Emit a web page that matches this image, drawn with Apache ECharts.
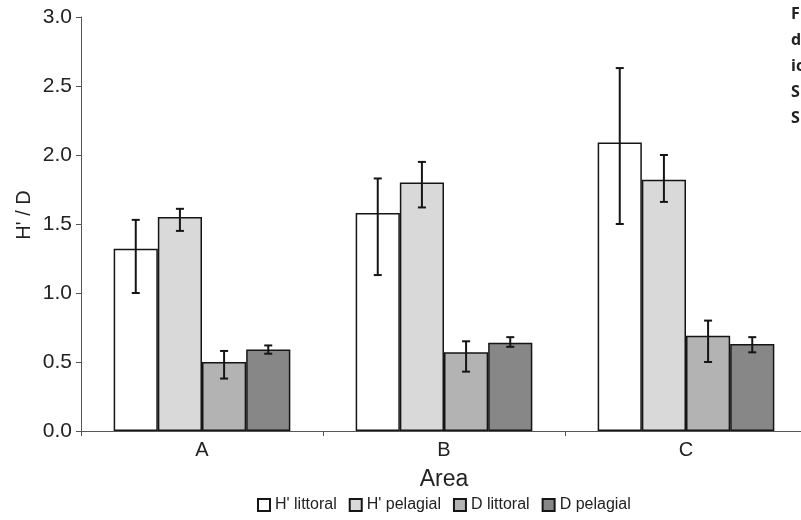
<!DOCTYPE html>
<html>
<head>
<meta charset="utf-8">
<script src="https://cdn.jsdelivr.net/npm/echarts@6/dist/echarts.min.js"></script>
<style>html,body{margin:0;padding:0;background:#fff}#c{width:801px;height:520px}</style>
</head>
<body>
<div id="c"></div>
<script>
var categories = ['A', 'B', 'C'];
var seriesNames = ["H' littoral", "H' pelagial", 'D littoral', 'D pelagial'];
var hLittoral = [1.32, 1.58, 2.09];
var hPelagial = [1.55, 1.80, 1.82];
var dLittoral = [0.50, 0.57, 0.69];
var dPelagial = [0.59, 0.64, 0.63];
var hLittoralLow = [1.00, 1.13, 1.50];
var hLittoralHigh = [1.53, 1.83, 2.63];
var hPelagialLow = [1.45, 1.62, 1.66];
var hPelagialHigh = [1.61, 1.95, 2.00];
var dLittoralLow = [0.38, 0.43, 0.50];
var dLittoralHigh = [0.58, 0.65, 0.80];
var dPelagialLow = [0.56, 0.61, 0.57];
var dPelagialHigh = [0.62, 0.68, 0.68];
var yTicks = [0, 0.5, 1.0, 1.5, 2.0, 2.5, 3.0];
var yAxisTitle = "H' / D";
var xAxisTitle = 'Area';
var sideText = ['F', 'd', 'ic', 'S', 'S'];

var values = [hLittoral, hPelagial, dLittoral, dPelagial];
var lows = [hLittoralLow, hPelagialLow, dLittoralLow, dPelagialLow];
var highs = [hLittoralHigh, hPelagialHigh, dLittoralHigh, dPelagialHigh];
var colors = ['#ffffff', '#d9d9d9', '#b3b3b3', '#878787'];
var gapPct = 27;
var FONT = 'Liberation Sans, Arial, sans-serif';

var chart = echarts.init(document.getElementById('c'));

var series = [];
values.forEach(function (vals, i) {
  series.push({
    name: seriesNames[i],
    type: 'bar',
    data: vals,
    barGap: '0%',
    barCategoryGap: gapPct + '%',
    itemStyle: { color: colors[i], borderColor: '#151515', borderWidth: 1.5 },
    emphasis: { disabled: true },
    z: 2
  });
});

var errData = [];
for (var s = 0; s < 4; s++) {
  for (var c = 0; c < categories.length; c++) {
    errData.push([c, lows[s][c], highs[s][c], s]);
  }
}

series.push({
  type: 'custom',
  name: 'err',
  data: errData,
  z: 5,
  silent: true,
  encode: { x: 0, y: [1, 2] },
  renderItem: function (params, api) {
    var cat = api.value(0);
    var lo = api.coord([cat, api.value(1)]);
    var hi = api.coord([cat, api.value(2)]);
    var bi = api.value(3);
    var catW = api.size([1, 0])[0];
    var bw = catW * (1 - gapPct / 100) / 4;
    var x = lo[0] + (bi - 1.5) * bw;
    var cap = 4;
    var st = { stroke: '#151515', lineWidth: 2 };
    return {
      type: 'group',
      children: [
        { type: 'line', shape: { x1: x, y1: lo[1], x2: x, y2: hi[1] }, style: st },
        { type: 'line', shape: { x1: x - cap, y1: lo[1], x2: x + cap, y2: lo[1] }, style: st },
        { type: 'line', shape: { x1: x - cap, y1: hi[1], x2: x + cap, y2: hi[1] }, style: st }
      ]
    };
  }
});

var graphics = sideText.map(function (t, i) {
  return {
    type: 'text',
    left: 791,
    top: 6 + i * 26,
    style: { text: t, fill: '#222', font: 'bold 16px "Open Sans", sans-serif' }
  };
});
graphics.push({
  type: 'text',
  x: 24,
  y: 215,
  rotation: Math.PI / 2,
  style: { text: yAxisTitle, fill: '#222', font: '20px ' + FONT, align: 'center', verticalAlign: 'middle' }
});

chart.setOption({
  animation: false,
  backgroundColor: '#ffffff',
  grid: { left: 81, right: -6, top: 17, bottom: 89, containLabel: false, outerBoundsMode: 'none' },
  legend: {
    data: seriesNames,
    left: 252,
    top: 492,
    itemWidth: 12,
    itemHeight: 12,
    itemGap: 12,
    icon: 'rect',
    textStyle: { fontFamily: FONT, fontSize: 16, color: '#222', padding: [0, 0, 0, 0] }
  },
  xAxis: {
    type: 'category',
    data: categories,
    name: xAxisTitle,
    nameLocation: 'middle',
    nameGap: 37,
    nameTextStyle: { fontFamily: FONT, fontSize: 23, color: '#222' },
    axisLine: { lineStyle: { color: '#555', width: 1 } },
    axisTick: { show: true, length: 5, lineStyle: { color: '#555' } },
    axisLabel: { fontFamily: FONT, fontSize: 20, color: '#222', margin: 9 }
  },
  yAxis: {
    type: 'value',
    min: yTicks[0],
    max: yTicks[yTicks.length - 1],
    interval: 0.5,
    axisLine: { show: true, lineStyle: { color: '#555', width: 1 } },
    axisTick: { show: true, length: 5, lineStyle: { color: '#555' } },
    splitLine: { show: false },
    axisLabel: {
      fontFamily: FONT, fontSize: 21, color: '#222', margin: 9,
      formatter: function (v) { return v.toFixed(1); }
    }
  },
  graphic: graphics,
  series: series
});
</script>
</body>
</html>
